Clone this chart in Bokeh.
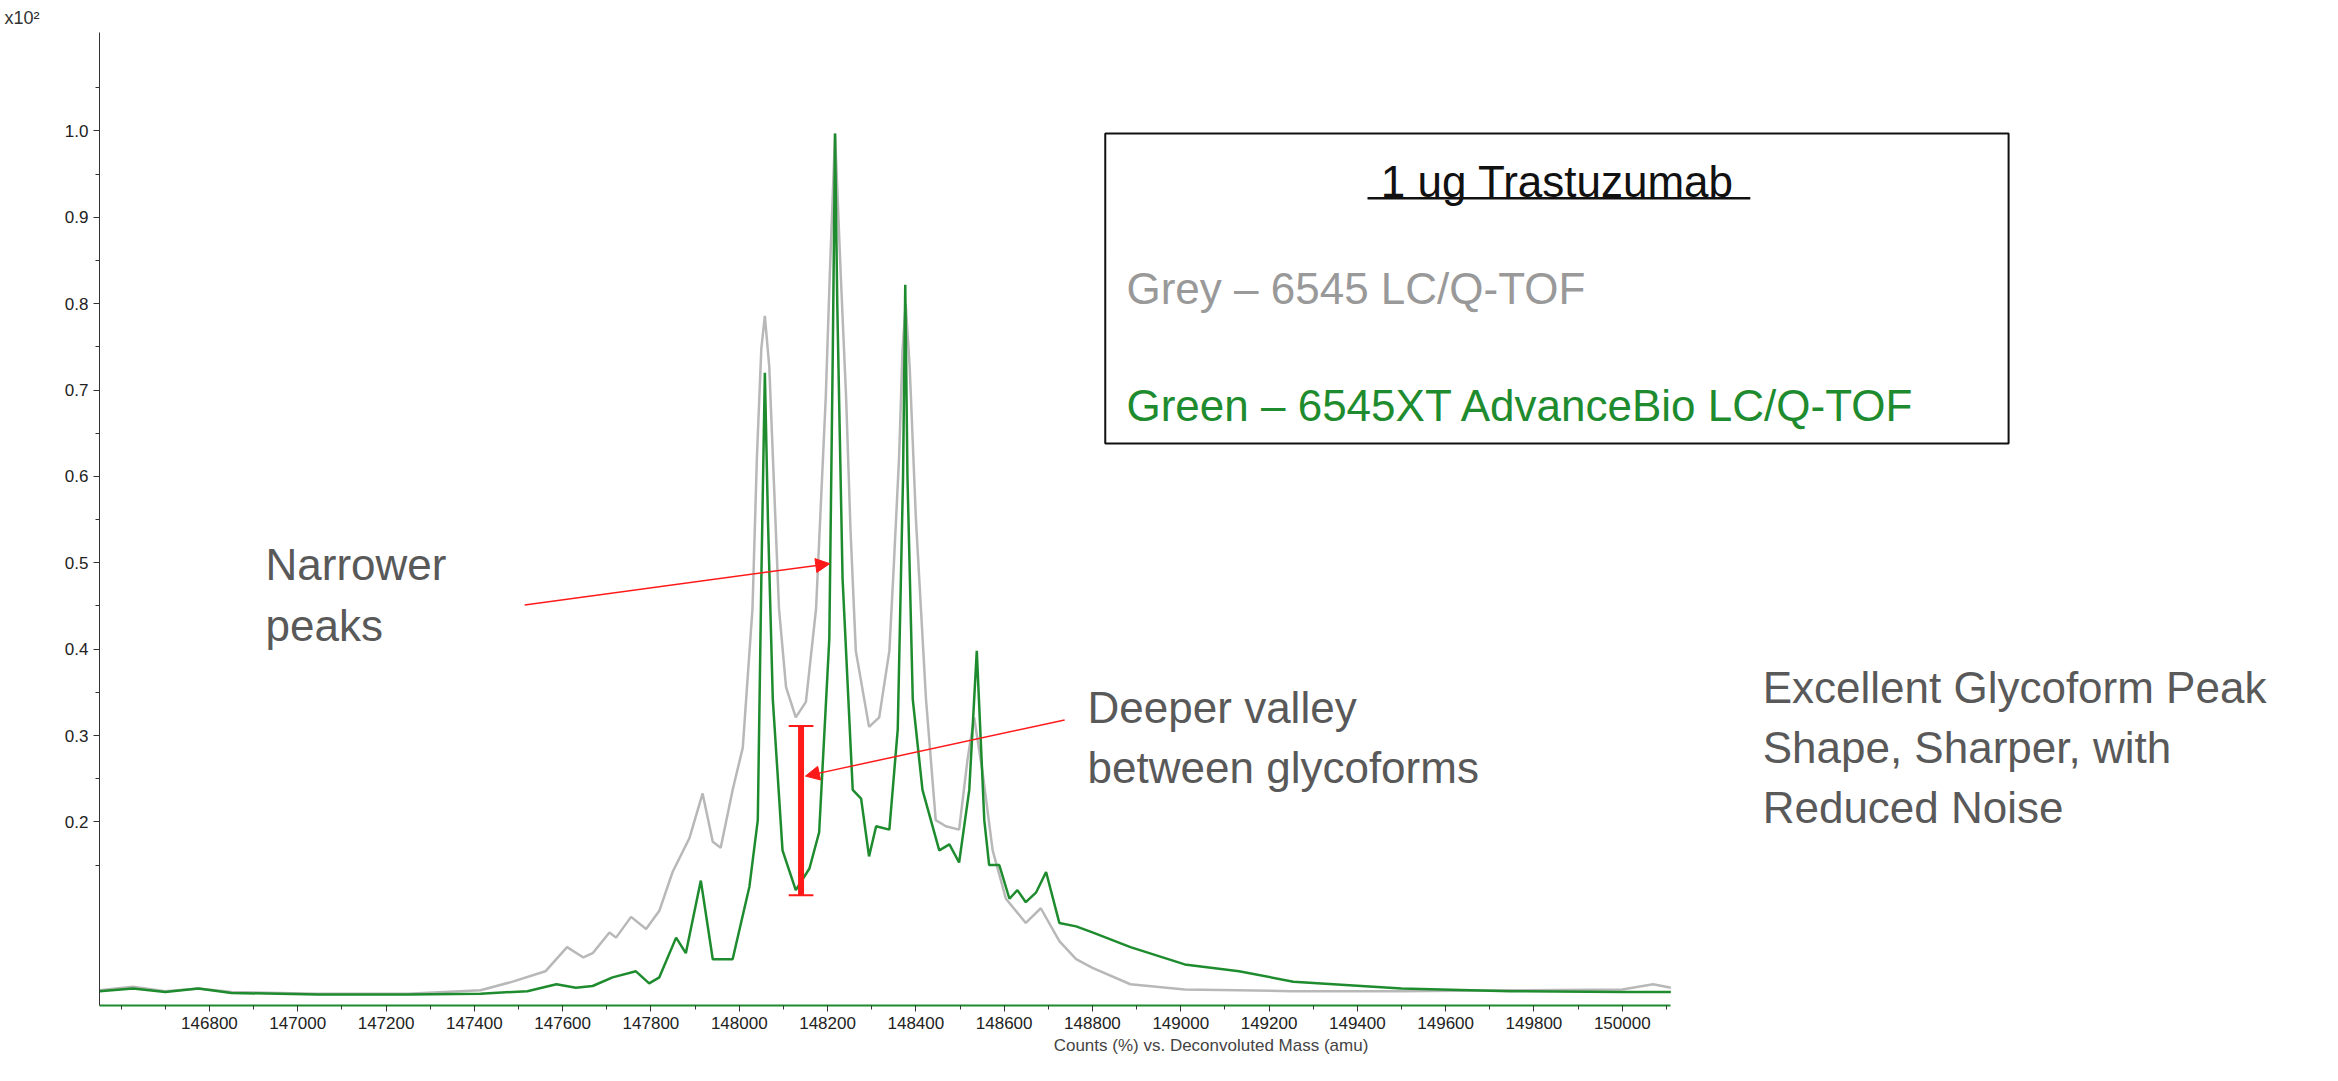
from bokeh.embed import file_html
from bokeh.resources import INLINE
from bokeh.plotting import figure
from bokeh.models import (Range1d, FixedTicker, PrintfTickFormatter, Label,
                          Arrow, NormalHead, BoxAnnotation)

# deconvoluted mass (amu) and counts (x10^2)
grey_mass = [146551, 146627, 146700, 146775, 146850, 147045, 147250, 147414, 147487, 147561,
             147610, 147647, 147668, 147706, 147721, 147755, 147789, 147819, 147849, 147887,
             147917, 147940, 147958, 147985, 148008, 148030, 148040, 148050, 148058, 148068,
             148079, 148090, 148106, 148128, 148151, 148174, 148196, 148205, 148217, 148230,
             148242, 148252, 148264, 148294, 148317, 148340, 148350, 148362, 148370, 148377,
             148386, 148400, 148423, 148445, 148468, 148498, 148517, 148532, 148551, 148574,
             148604, 148649, 148683, 148725, 148763, 148800, 148886, 149009, 149250, 149500,
             149750, 150000, 150070, 150110]
grey_int = [0.005, 0.009, 0.004, 0.007, 0.003, 0.001, 0.001, 0.005, 0.015, 0.027,
            0.055, 0.043, 0.048, 0.072, 0.066, 0.090, 0.076, 0.097, 0.142, 0.181,
            0.233, 0.177, 0.170, 0.237, 0.286, 0.447, 0.622, 0.748, 0.786, 0.727,
            0.587, 0.447, 0.356, 0.321, 0.339, 0.447, 0.692, 0.832, 0.997, 0.832,
            0.692, 0.538, 0.398, 0.310, 0.321, 0.398, 0.496, 0.622, 0.748, 0.800,
            0.727, 0.552, 0.342, 0.202, 0.195, 0.191, 0.272, 0.321, 0.258, 0.167,
            0.111, 0.083, 0.100, 0.062, 0.041, 0.031, 0.012, 0.006, 0.004, 0.004,
            0.005, 0.006, 0.012, 0.008]

green_mass = [146551, 146627, 146700, 146775, 146850, 147045, 147250, 147414, 147520, 147586,
              147630, 147668, 147713, 147766, 147796, 147819, 147857, 147879, 147913, 147940,
              147985, 148023, 148042, 148050, 148058, 148065, 148076, 148098, 148128, 148159,
              148181, 148204, 148212, 148217, 148222, 148234, 148257, 148276, 148294, 148310,
              148340, 148359, 148371, 148376, 148381, 148393, 148415, 148453, 148476, 148498,
              148521, 148538, 148555, 148566, 148589, 148612, 148630, 148649, 148672, 148695,
              148725, 148763, 148800, 148886, 149009, 149132, 149255, 149500, 149746, 150000,
              150110]
green_int = [0.004, 0.007, 0.003, 0.007, 0.002, 0.000, 0.000, 0.001, 0.004, 0.012,
             0.008, 0.010, 0.020, 0.027, 0.013, 0.020, 0.066, 0.048, 0.132, 0.041,
             0.041, 0.125, 0.202, 0.480, 0.720, 0.550, 0.342, 0.167, 0.121, 0.146,
             0.188, 0.412, 0.750, 0.997, 0.800, 0.482, 0.237, 0.227, 0.160, 0.195,
             0.191, 0.307, 0.600, 0.822, 0.600, 0.342, 0.237, 0.167, 0.174, 0.153,
             0.237, 0.398, 0.202, 0.150, 0.150, 0.111, 0.121, 0.107, 0.118, 0.142,
             0.083, 0.079, 0.072, 0.055, 0.035, 0.027, 0.015, 0.007, 0.004, 0.003,
             0.003]

x_ticks = list(range(146800, 150001, 200))
y_ticks = [0.2, 0.3, 0.4, 0.5, 0.6, 0.7, 0.8, 0.9, 1.0]

FONT = "Liberation Sans"
TXT = "#595959"

p = figure(width=2322, height=1070, output_backend="svg", toolbar_location=None,
           x_range=Range1d(146551, 151586), y_range=Range1d(-0.0126, 1.114),
           min_border_left=99, min_border_right=0, min_border_top=30, min_border_bottom=65,
           title="x10\u00b2")
p.title.text_font = FONT
p.title.text_font_size = "18px"
p.title.text_font_style = "normal"
p.title.text_color = "#333333"
p.title.offset = -95
p.outline_line_color = None
p.grid.visible = False

p.line(grey_mass, grey_int, color="#b8b8b8", line_width=2.5)
p.line(green_mass, green_int, color="#1e8c2e", line_width=2.5)

p.xaxis.bounds = (146551, 150110)
p.xaxis.ticker = FixedTicker(ticks=x_ticks, minor_ticks=list(range(146600, 150101, 100)))
p.xaxis.formatter = PrintfTickFormatter(format="%d")
p.xaxis.axis_line_color = "#1e8c2e"
p.xaxis.axis_line_width = 2
p.xaxis.axis_label = "Counts (%) vs. Deconvoluted Mass (amu)"
p.yaxis.ticker = FixedTicker(ticks=y_ticks, minor_ticks=[0.15 + 0.1 * i for i in range(10)])
p.yaxis.formatter = PrintfTickFormatter(format="%.1f")
for ax in (p.xaxis, p.yaxis):
    ax.major_label_text_font = FONT
    ax.major_label_text_font_size = "17px"
    ax.major_label_text_color = "#222222"
    ax.axis_label_text_font = FONT
    ax.axis_label_text_font_size = "17px"
    ax.axis_label_text_font_style = "normal"
    ax.axis_label_standoff = 4
    ax.major_tick_line_color = "#333333"
    ax.minor_tick_line_color = "#333333"
    ax.major_tick_out = 6
    ax.minor_tick_out = 4
    ax.major_tick_in = 0
    ax.minor_tick_in = 0
p.yaxis.axis_line_color = "#333333"


def label(x, y, text, color=TXT, size="44px", align="left", **kw):
    p.add_layout(Label(x=x, y=y, text=text, text_color=color, text_font=FONT,
                       text_font_size=size, text_align=align, text_baseline="top", **kw))


label(146927, 0.526, "Narrower")
label(146927, 0.456, "peaks")
label(148789, 0.361, "Deeper valley")
label(148789, 0.291, "between glycoforms")
label(150318, 0.384, "Excellent Glycoform Peak")
label(150318, 0.314, "Shape, Sharper, with")
label(150318, 0.245, "Reduced Noise")

p.add_layout(BoxAnnotation(left=148829, right=150875, bottom=0.638, top=0.997,
                           fill_alpha=0, line_color="#111111", line_alpha=1.0, line_width=2))
label(149853, 0.970, "1 ug Trastuzumab", color="#111111", align="center")
p.segment(x0=[149423], y0=[0.922], x1=[150290], y1=[0.922], color="#111111", line_width=2.5)
label(148877, 0.846, "Grey \u2013 6545 LC/Q-TOF", color="#999999")
label(148877, 0.711, "Green \u2013 6545XT AdvanceBio LC/Q-TOF", color="#1e8c2e")

red = "#ff1a1a"
p.add_layout(Arrow(x_start=147514, y_start=0.451, x_end=148205, y_end=0.499, line_color=red,
                   line_width=1.5, end=NormalHead(size=14, fill_color=red, line_color=red)))
p.add_layout(Arrow(x_start=148737, y_start=0.318, x_end=148150, y_end=0.253, line_color=red,
                   line_width=1.5, end=NormalHead(size=14, fill_color=red, line_color=red)))
p.segment(x0=[148140, 148112, 148112], y0=[0.115, 0.311, 0.115],
          x1=[148140, 148168, 148168], y1=[0.311, 0.311, 0.115],
          color=red, line_width=[6, 2, 2])

open("out.html", "w").write(file_html(p, INLINE))
